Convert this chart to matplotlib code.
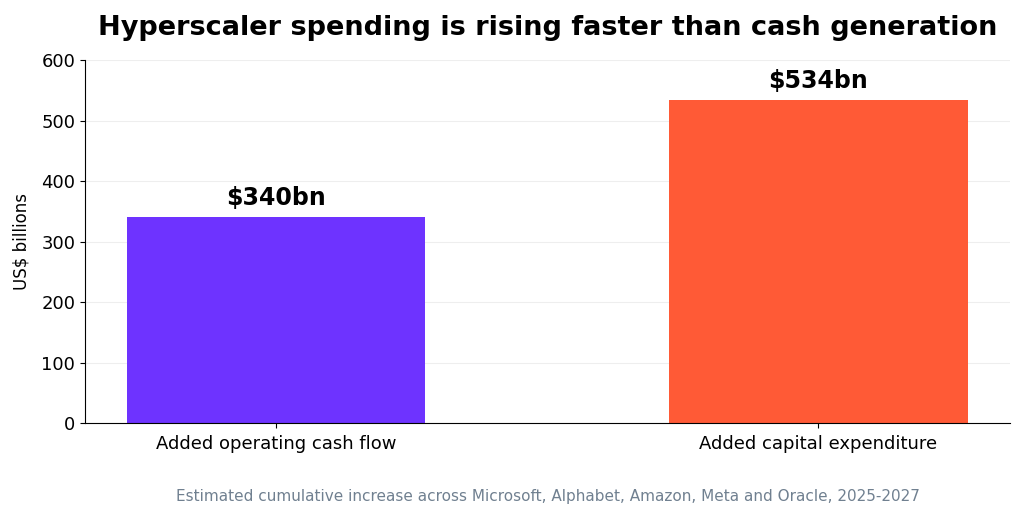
import matplotlib
matplotlib.use("Agg")
import matplotlib.pyplot as plt

categories = ["Added operating cash flow", "Added capital expenditure"]
values = [340, 534]
labels = ["$340bn", "$534bn"]
colors = ["#6E33FF", "#FF5A36"]

fig = plt.figure(figsize=(10.24, 5.19), dpi=100)
ax = fig.add_axes([0.083, 0.185, 0.903, 0.699])

x = range(len(categories))
ax.bar(x, values, width=0.55, color=colors, zorder=2)
for i, (v, lab) in enumerate(zip(values, labels)):
    ax.text(i, v + 12, lab, ha="center", va="bottom", fontsize=17, fontweight="bold")

ax.set_xticks(list(x))
ax.set_xticklabels(categories, fontsize=13)
ax.set_ylim(0, 600)
ax.set_yticks(range(0, 601, 100))
ax.tick_params(axis="y", labelsize=13)
ax.tick_params(axis="x", pad=5)
ax.set_ylabel("US$ billions", fontsize=12, labelpad=8)
ax.yaxis.grid(True, color="#eeeeee", linewidth=0.8, zorder=0)
ax.spines["top"].set_visible(False)
ax.spines["right"].set_visible(False)

ax.set_title("Hyperscaler spending is rising faster than cash generation",
             fontsize=19.5, fontweight="bold", pad=18)
fig.text(0.535, 0.035, "Estimated cumulative increase across Microsoft, Alphabet, Amazon, Meta and Oracle, 2025-2027",
         ha="center", fontsize=11, color="#708090")

fig.savefig("out.png", dpi=100)
